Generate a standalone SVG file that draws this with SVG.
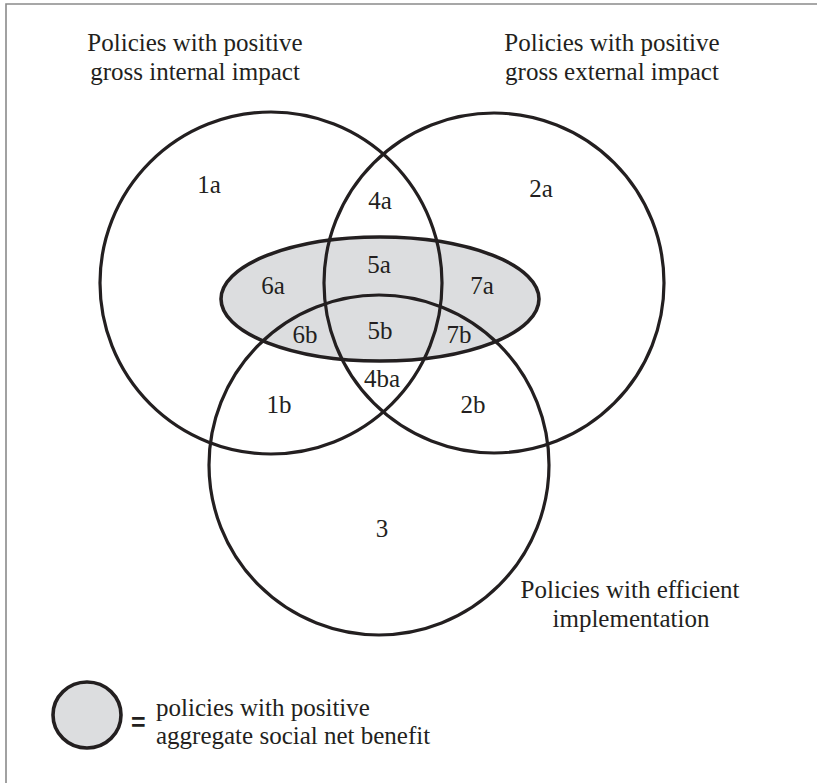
<svg xmlns="http://www.w3.org/2000/svg" width="817" height="783" viewBox="0 0 817 783">
<style>
.t{font-family:"Liberation Serif","Times New Roman",serif;font-size:25px;fill:#231f20}
.c{text-anchor:middle}
.o{fill:none;stroke:#231f20;stroke-width:3.2}
.g{fill:#dcdddf;stroke:#231f20;stroke-width:3.6}
</style>
<rect width="817" height="783" fill="#ffffff"/>
<g id="frame"><path d="M6,783 V4 H817" fill="none" stroke="#8a8a8a" stroke-width="1.6"/></g>
<g id="benefit"><ellipse class="g" cx="380" cy="299" rx="159" ry="62"/></g>
<g id="internal"><circle class="o" cx="271" cy="283" r="171"/></g>
<g id="external"><circle class="o" cx="494" cy="283" r="170"/></g>
<g id="efficient"><circle class="o" cx="379" cy="465" r="170"/></g>
<g id="titles">
<text class="t c" x="195" y="51">Policies with positive</text>
<text class="t c" x="195" y="80">gross internal impact</text>
<text class="t c" x="612" y="51">Policies with positive</text>
<text class="t c" x="612" y="80">gross external impact</text>
<text class="t c" x="630" y="598">Policies with efficient</text>
<text class="t c" x="631" y="627">implementation</text>
</g>
<g id="regions">
<text class="t c" x="209" y="193">1a</text>
<text class="t c" x="380" y="209">4a</text>
<text class="t c" x="541" y="197">2a</text>
<text class="t c" x="379" y="273">5a</text>
<text class="t c" x="273" y="294">6a</text>
<text class="t c" x="482" y="294">7a</text>
<text class="t c" x="305" y="343">6b</text>
<text class="t c" x="380" y="339">5b</text>
<text class="t c" x="459" y="343">7b</text>
<text class="t c" x="382" y="387">4ba</text>
<text class="t c" x="279" y="413">1b</text>
<text class="t c" x="473" y="413">2b</text>
<text class="t c" x="382" y="537">3</text>
</g>
<g id="legend">
<ellipse class="g" cx="87" cy="715" rx="34" ry="33"/>
<text x="131" y="731" style="font-family:'Liberation Sans',Arial,sans-serif;font-size:25px;font-weight:bold;fill:#231f20">=</text>
<text class="t" x="156" y="716">policies with positive</text>
<text class="t" x="156" y="744">aggregate social net benefit</text>
</g>
</svg>
